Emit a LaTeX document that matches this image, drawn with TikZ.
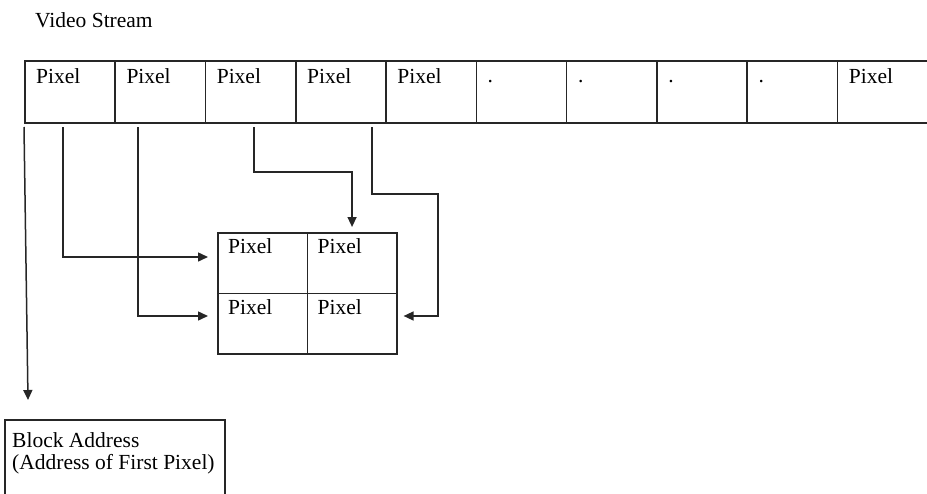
\documentclass[tikz,border=0pt]{standalone}
\usepackage{fontspec}
\setmainfont{Liberation Serif}
\usetikzlibrary{arrows.meta,calc}
\begin{document}
\begin{tikzpicture}[x=1pt,y=-1pt,
  every node/.style={font=\fontsize{21.5}{25}\selectfont},
  cell/.style={draw=black!85,line width=1.6pt,anchor=north west,inner sep=0pt,minimum width=90.3pt,minimum height=62pt},
  bcell/.style={draw=black!85,line width=1.6pt,anchor=north west,inner sep=0pt,minimum width=89.5pt,minimum height=60.5pt},
  txt/.style={anchor=base west,inner sep=0pt},
  conn/.style={draw=black!85,line width=1.5pt},
  arr/.style={conn,-{Triangle[length=10pt,width=9pt]}}
]
\useasboundingbox (0,0) rectangle (927,493);
\clip (0,0) rectangle (927,493);
\node[txt] (title) at (35,27) {Video Stream};
% top row
\foreach \i in {1,...,10} {
  \node[cell] (c\i) at ({24+90.3*(\i-1)},60) {};
}
\foreach \i in {1,...,5} {
  \node[txt] (t\i) at ($(c\i.north west)+(12,23)$) {Pixel};
}
\foreach \i in {6,...,9} {
  \node[txt] (t\i) at ($(c\i.north west)+(12,22)$) {.};
}
\node[txt] (t10) at ($(c10.north west)+(12,23)$) {Pixel};
% 2x2 block
\node[bcell] (b11) at (217,232) {};
\node[bcell] (b12) at (306.5,232) {};
\node[bcell] (b21) at (217,292.5) {};
\node[bcell] (b22) at (306.5,292.5) {};
\node[txt] (u11) at ($(b11.north west)+(11,21)$) {Pixel};
\node[txt] (u12) at ($(b12.north west)+(11,21)$) {Pixel};
\node[txt] (u21) at ($(b21.north west)+(11,22)$) {Pixel};
\node[txt] (u22) at ($(b22.north west)+(11,22)$) {Pixel};
% block address
\node[draw=black!85,line width=1.6pt,anchor=north west,inner sep=0pt,minimum width=220pt,minimum height=100pt] (ba) at (4,419) {};
\node[txt] (ba1) at (12,447) {Block Address};
\node[txt] (ba2) at (12,469) {(Address of First Pixel)};
% connector start points
\coordinate (s0) at (24,127);
\coordinate (s1) at (63,127);
\coordinate (s2) at (138,127);
\coordinate (s3) at (254,127);
\coordinate (s4) at (372,127);
\coordinate (e0) at (28,400);
% connectors
\draw[arr] (s0) -- (e0);
\draw[arr] (s1) |- ($(b11.north west)+(-9,25)$);
\draw[arr] (s2) |- ($(b21.north west)+(-9,23.5)$);
\draw[arr] (s3) -- (254,172) -| ($(b12.north)+(0,-5)$);
\draw[arr] (s4) -- (372,194) -| (438,316) -- ($(b22.north east)+(6,23.5)$);
\end{tikzpicture}
\end{document}
